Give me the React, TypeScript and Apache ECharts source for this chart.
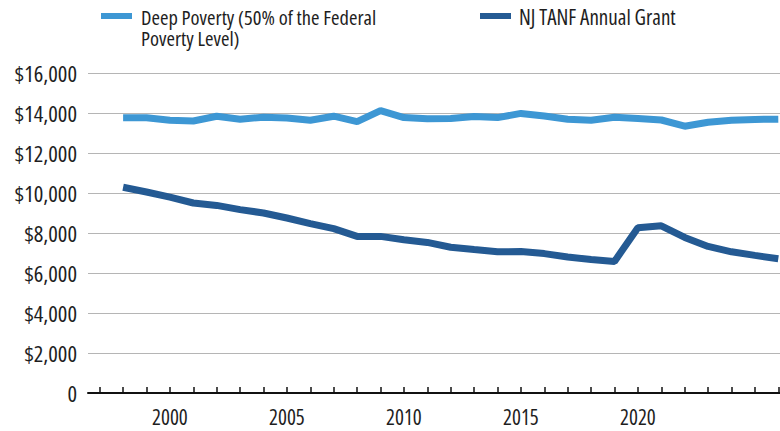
import React, { useEffect, useRef } from "react";
import * as echarts from "echarts";

const years: string[] = [
  "1997", "1998", "1999", "2000", "2001", "2002", "2003", "2004", "2005", "2006",
  "2007", "2008", "2009", "2010", "2011", "2012", "2013", "2014", "2015", "2016",
  "2017", "2018", "2019", "2020", "2021", "2022", "2023", "2024", "2025", "2026",
];

const deepPoverty: (number | null)[] = [
  null, 13760, 13760, 13640, 13600, 13840, 13690, 13790, 13750, 13640,
  13840, 13570, 14120, 13770, 13710, 13720, 13820, 13770, 13980, 13850,
  13690, 13640, 13790, 13720, 13650, 13340, 13540, 13640, 13680, 13690,
];

const njTanf: (number | null)[] = [
  null, 10290, 10050, 9790, 9500, 9380, 9170, 9000, 8750, 8470,
  8220, 7830, 7830, 7660, 7530, 7290, 7170, 7060, 7070, 6970,
  6800, 6670, 6580, 8260, 8360, 7780, 7330, 7060, 6880, 6710,
];

const xTickLabels: string[] = ["2000", "2005", "2010", "2015", "2020"];
const yTicks = { min: 0, max: 16000, interval: 2000 };

const deepName = "Deep Poverty (50% of the Federal Poverty Level)";
const deepLegendText = "Deep Poverty (50% of the Federal\nPoverty Level)";
const tanfName = "NJ TANF Annual Grant";
const deepColor = "#3d97d4";
const tanfColor = "#245a93";
const font = "'Open Sans', 'Roboto Condensed', sans-serif";
const textColor = "#1e1e1e";

export default function App() {
  const ref = useRef<HTMLDivElement>(null);
  useEffect(() => {
    if (!ref.current) return;
    const chart = echarts.init(ref.current, null, { renderer: "svg" });
    chart.setOption({
      animation: false,
      backgroundColor: "#ffffff",
      grid: {
        left: 88,
        top: 73,
        width: 702,
        height: 320,
        containLabel: false,
        outerBoundsMode: "none",
      },
      xAxis: {
        type: "category",
        data: years,
        boundaryGap: true,
        axisLine: { show: true, lineStyle: { color: "#111111", width: 2 } },
        axisTick: {
          show: true,
          inside: true,
          alignWithLabel: true,
          interval: 0,
          length: 6,
          lineStyle: { color: "#111111", width: 1.5 },
        },
        axisLabel: {
          interval: (_i: number, v: string) => xTickLabels.includes(v),
          margin: 13,
          fontFamily: font,
          fontSize: 21,
          color: textColor,
        },
        splitLine: { show: false },
      },
      yAxis: {
        type: "value",
        min: yTicks.min,
        max: yTicks.max,
        interval: yTicks.interval,
        axisLine: { show: false },
        axisTick: { show: false },
        axisLabel: {
          margin: 11,
          fontFamily: font,
          fontSize: 22.5,
          color: textColor,
          formatter: (v: number) => (v === 0 ? "0" : "$" + v.toLocaleString("en-US")),
        },
        splitLine: { show: true, lineStyle: { color: "#b5b5b5", width: 1 } },
      },
      series: [
        {
          name: deepName,
          type: "line",
          data: deepPoverty,
          showSymbol: false,
          symbol: "none",
          lineStyle: { color: deepColor, width: 7 },
          itemStyle: { color: deepColor },
          z: 3,
        },
        {
          name: tanfName,
          type: "line",
          data: njTanf,
          showSymbol: false,
          symbol: "none",
          lineStyle: { color: tanfColor, width: 7 },
          itemStyle: { color: tanfColor },
          z: 3,
        },
      ],
      graphic: [
        { type: "rect", shape: { x: 101, y: 13, width: 31, height: 6 }, style: { fill: deepColor } },
        {
          type: "text",
          style: {
            x: 141,
            y: 6,
            text: deepLegendText,
            fontFamily: font,
            fontSize: 20.5,
            lineHeight: 21,
            fill: textColor,
            verticalAlign: "top",
          },
        },
        { type: "rect", shape: { x: 480, y: 13, width: 31, height: 6 }, style: { fill: tanfColor } },
        {
          type: "text",
          style: {
            x: 519,
            y: 6,
            text: tanfName,
            fontFamily: font,
            fontSize: 21,
            lineHeight: 21,
            fill: textColor,
            verticalAlign: "top",
          },
        },
      ],
    });
    return () => chart.dispose();
  }, []);
  return (
    <>
      <style>{`#chart-root svg text, #chart-root svg tspan { font-stretch: 75% !important; }`}</style>
      <div
        id="chart-root"
        ref={ref}
        style={{ position: "fixed", left: 0, top: 0, width: 780, height: 431 }}
      />
    </>
  );
}
